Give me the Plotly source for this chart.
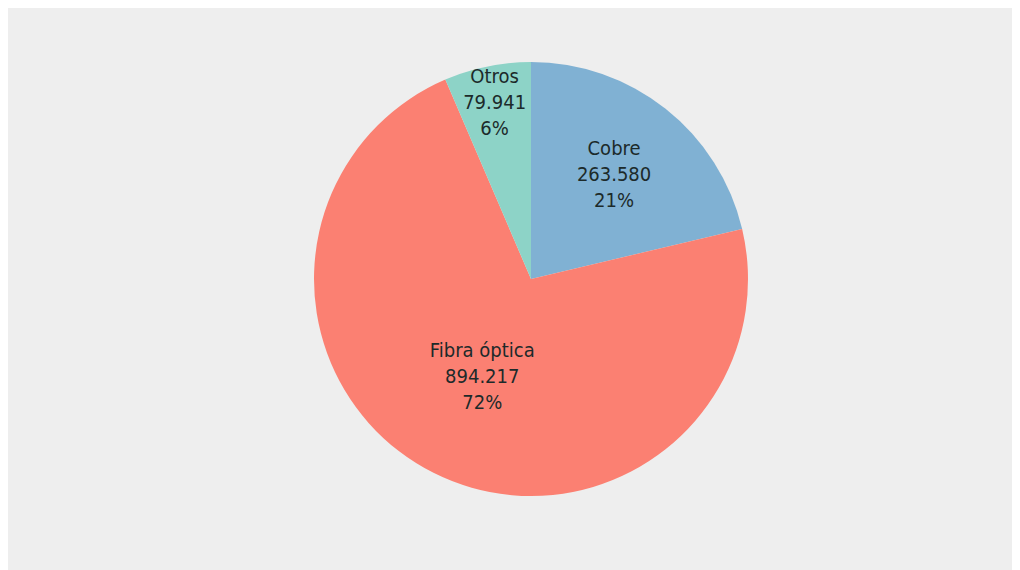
import plotly.graph_objects as go

# Access lines by technology
labels = ["Cobre", "Fibra óptica", "Otros"]
values = [263580, 894217, 79941]
slice_colors = ["#80b1d3", "#fb8072", "#8dd3c7"]

W, H = 1030, 570
# page body adds an 8px offset, so pie box is given in figure pixels
cx, cy, r = 523, 271, 217

fig = go.Figure()
fig.add_trace(go.Pie(
    labels=labels,
    values=values,
    sort=False,
    direction="clockwise",
    rotation=0,
    marker=dict(colors=slice_colors, line=dict(width=0)),
    texttemplate="%{label}<br>%{value:,.0f}<br>%{percent:.0%}",
    textposition="inside",
    insidetextorientation="horizontal",
    insidetextfont=dict(family="DejaVu Sans Condensed, Liberation Sans Narrow, sans-serif",
                        size=20, color="#1c2a2a"),
    domain=dict(x=[(cx - r) / W, (cx + r) / W],
                y=[(H - cy - r) / H, (H - cy + r) / H]),
    showlegend=False,
    hovertemplate="<b>%{label}</b><br>%{value:,.0f}<br>%{percent}<extra></extra>",
))

fig.update_layout(
    width=W,
    height=H,
    margin=dict(l=0, r=0, t=0, b=0),
    paper_bgcolor="#eeeeee",
    separators=",.",
    uniformtext=dict(minsize=20, mode="show"),
)

fig.write_html("out.html")
